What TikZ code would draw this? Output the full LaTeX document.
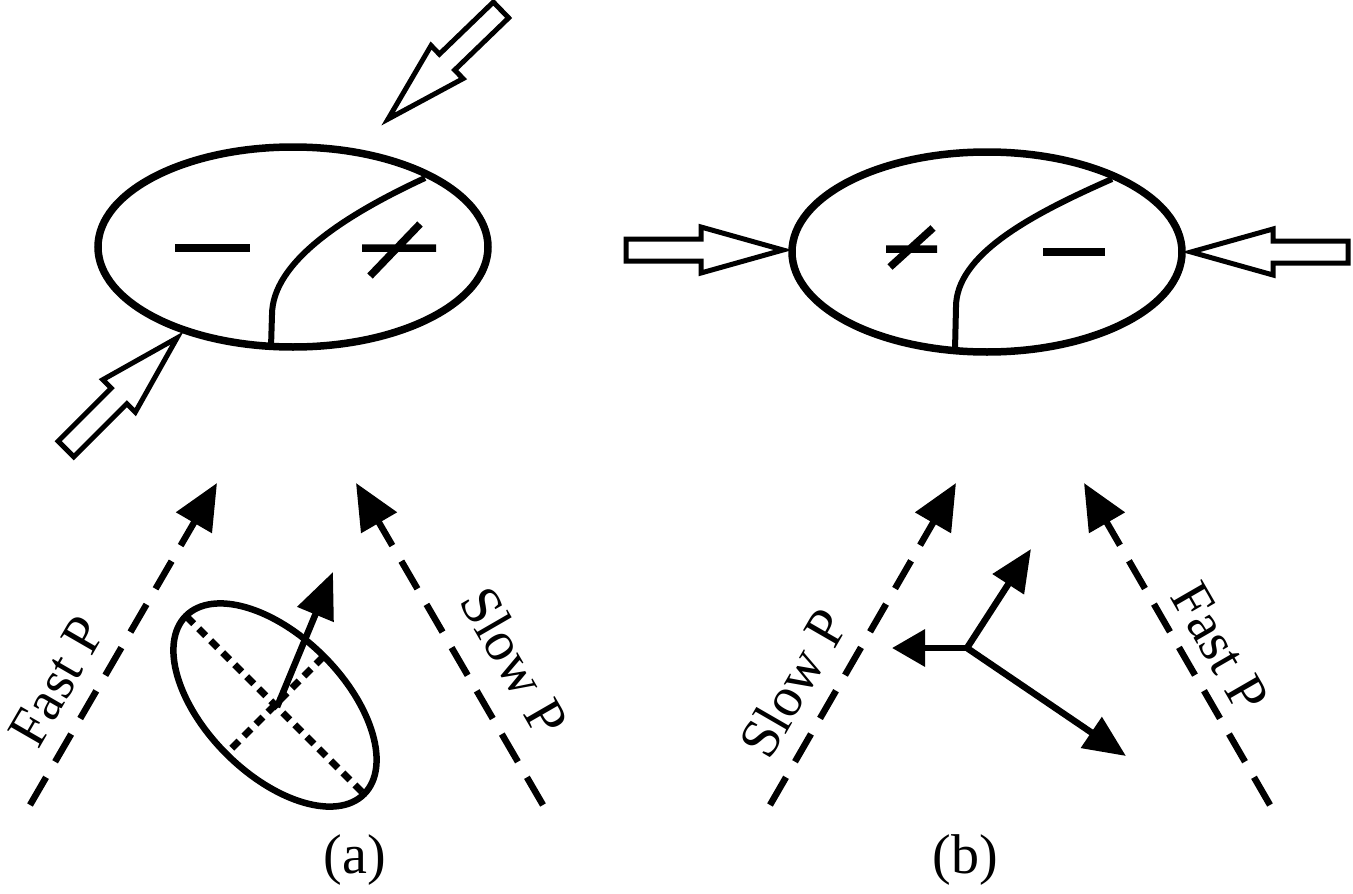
\documentclass[tikz,border=0pt]{standalone}
\usepackage{fontspec}
\setmainfont{Liberation Serif}
\newfontfamily\labelfont{Liberation Serif}
\usetikzlibrary{arrows.meta}
\tikzset{
  body/.style={line width=7.5pt},
  split/.style={line width=6pt},
  sign/.style={line width=7.5pt},
  hollow/.style={line width=5pt,fill=white,line join=miter},
  ray/.style={line width=6.5pt,dash pattern=on 32pt off 18pt,-{Triangle[length=46pt,width=40pt]}},
  vec/.style={line width=6.5pt,-{Triangle[length=42pt,width=36pt]}},
  axisline/.style={line width=7pt,dash pattern=on 10pt off 7pt},
  lbl/.style={font=\labelfont\fontsize{56}{60}\selectfont,inner sep=0pt},
  blockarrow/.pic={\draw[hollow] (0,-11) -- (75,-11) -- (75,-23) -- (157,0) -- (75,23) -- (75,11) -- (0,11) -- cycle;}
}

\begin{document}
\begin{tikzpicture}[x=1pt,y=-1pt]
  \useasboundingbox (0,0) rectangle (1353,894);
  % (a) grain under oblique compression
  \draw[body] (293,247) ellipse [x radius=195, y radius=100];
  \draw[split] (271,347) -- (272,315) .. controls (272,262) and (345,215) .. (425,178);
  \draw[sign] (175,248) -- (250,248);
  \draw[sign] (362,248) -- (436,248) (370,276) -- (420,224);
  \pic[rotate=224] at (501,10) {blockarrow};
  \pic[rotate=45] at (66,449) {blockarrow};
  % (b) grain under horizontal compression
  \draw[body] (987,252) ellipse [x radius=195, y radius=100];
  \draw[split] (955,350) -- (956,307) .. controls (956,255) and (1030,215) .. (1112,179);
  \draw[sign] (886,249) -- (937,249) (890,267) -- (933,228);
  \draw[sign] (1043,252) -- (1105,252);
  \pic at (626,250) {blockarrow};
  \pic[rotate=180] at (1348,252) {blockarrow};
  % (a) rays and strain ellipse
  \coordinate (fastA0) at (30,805);
  \coordinate (fastA1) at (217,483);
  \coordinate (slowA0) at (543,805);
  \coordinate (slowA1) at (356,483);
  \draw[ray] (fastA0) -- (fastA1);
  \draw[ray] (slowA0) -- (slowA1);
  \node[lbl,rotate=60] (fastAlbl) at (57,681) {Fast P};
  \node[lbl,rotate=-60] (slowAlbl) at (515,661) {Slow P};
  \begin{scope}[shift={(275,705)},rotate=-45]
    \draw[body,line width=6.5pt] (0,0) ellipse [x radius=126, y radius=69];
    \draw[axisline] (-125,0) -- (125,0);
    \draw[axisline] (0,-68) -- (0,68);
  \end{scope}
  \coordinate (strainO) at (277,707);
  \coordinate (strainT) at (333,572);
  \draw[vec,-{Triangle[length=46pt,width=38pt]}] (strainO) -- (strainT);
  \node[lbl] (capA) at (355,860) {(a)};
  % (b) rays and principal axes
  \coordinate (slowB0) at (770,805);
  \coordinate (slowB1) at (956,483);
  \coordinate (fastB0) at (1270,805);
  \coordinate (fastB1) at (1084,483);
  \draw[ray] (slowB0) -- (slowB1);
  \draw[ray] (fastB0) -- (fastB1);
  \node[lbl,rotate=60] (slowBlbl) at (793,683) {Slow P};
  \node[lbl,rotate=-60] (fastBlbl) at (1220,647) {Fast P};
  \coordinate (axesO) at (967,648);
  \coordinate (axesL) at (892,648);
  \coordinate (axesU) at (1031,549);
  \coordinate (axesR) at (1126,756);
  \draw[vec,-{Triangle[length=33pt,width=36pt]}] (axesO) -- (axesL);
  \draw[vec] (axesO) -- (axesU);
  \draw[vec] (axesO) -- (axesR);
  \node[lbl] (capB) at (965,860) {(b)};
\end{tikzpicture}
\end{document}
